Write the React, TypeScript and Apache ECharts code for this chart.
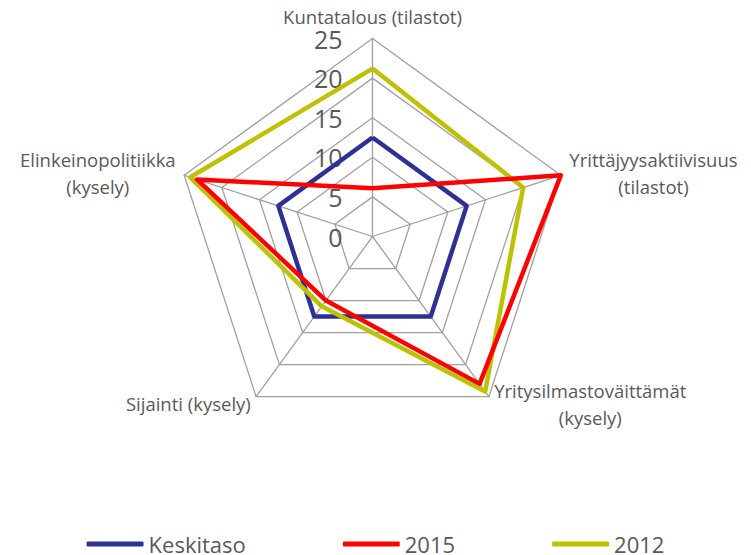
import React, { useEffect, useRef } from 'react';
import * as echarts from 'echarts';

// Indicators in ECharts order (top first, then counter-clockwise)
const indicatorNames = [
  'Kuntatalous (tilastot)',
  'Elinkeinopolitiikka\n(kysely)',
  'Sijainti (kysely)',
  'Yritysilmastoväittämät\n(kysely)',
  'Yrittäjyysaktiivisuus\n(tilastot)',
];
const axisMin = 0;
const axisMax = 25;
const splitCount = 5;

const seriesNames = ['Keskitaso', '2015', '2012'];
const keskitaso = [12.5, 12.5, 12.5, 12.5, 12.5];
const values2015 = [6.1, 23.3, 10, 23, 25];
const values2012 = [21.2, 24.2, 10.9, 24.2, 20];
const seriesColors = ['#2E3192', '#FF0000', '#BDC200'];

const FONT = "'Open Sans', sans-serif";
const TEXT = '#595959';
const GRID = '#A0A0A0';

export default function App() {
  const ref = useRef<HTMLDivElement>(null);
  useEffect(() => {
    if (!ref.current) return;
    const chart = echarts.init(ref.current, null, { renderer: 'svg' });
    const dataSets = [keskitaso, values2015, values2012];
    const zOrder = [2, 4, 3];
    chart.setOption({
      animation: false,
      backgroundColor: '#ffffff',
      legend: {
        data: seriesNames,
        left: 'center',
        top: 533,
        padding: 0,
        icon: 'roundRect',
        itemWidth: 57,
        itemHeight: 5,
        itemGap: 97,
        textStyle: { fontSize: 22, color: TEXT, fontFamily: FONT },
      },
      radar: {
        center: [372.5, 236.5],
        radius: 198,
        startAngle: 90,
        splitNumber: splitCount,
        shape: 'polygon',
        nameGap: 9,
        axisName: {
          color: TEXT,
          fontSize: 18.5,
          fontFamily: FONT,
          formatter: (name: string) =>
            name
              .split('\n')
              .map((l) => `{c|${l}}`)
              .join('\n'),
          rich: {
            c: {
              align: 'center',
              color: TEXT,
              fontSize: 18.5,
              fontFamily: FONT,
              lineHeight: 27,
            },
          },
        },
        indicator: indicatorNames.map((name, i) => {
          const ind: any = { name, min: axisMin, max: axisMax };
          if (i === 0) {
            ind.axisLabel = {
              show: true,
              fontSize: 25,
              lineHeight: 16,
              color: TEXT,
              fontFamily: FONT,
              margin: 30,
            };
          }
          return ind;
        }),
        axisLabel: { show: false },
        axisTick: { show: false },
        axisLine: { show: true, lineStyle: { color: GRID, width: 1.3 } },
        splitLine: { show: true, lineStyle: { color: GRID, width: 1.3 } },
        splitArea: { show: false },
      },
      series: seriesNames.map((n, i) => ({
        type: 'radar',
        name: n,
        z: zOrder[i],
        symbol: 'none',
        color: seriesColors[i],
        lineStyle: { color: seriesColors[i], width: 4.5 },
        itemStyle: { color: seriesColors[i] },
        data: [{ name: n, value: dataSets[i] }],
      })),
    });
    return () => chart.dispose();
  }, []);
  return (
    <div
      ref={ref}
      style={{ position: 'fixed', left: 0, top: 0, width: 751, height: 555, background: '#fff' }}
    />
  );
}
